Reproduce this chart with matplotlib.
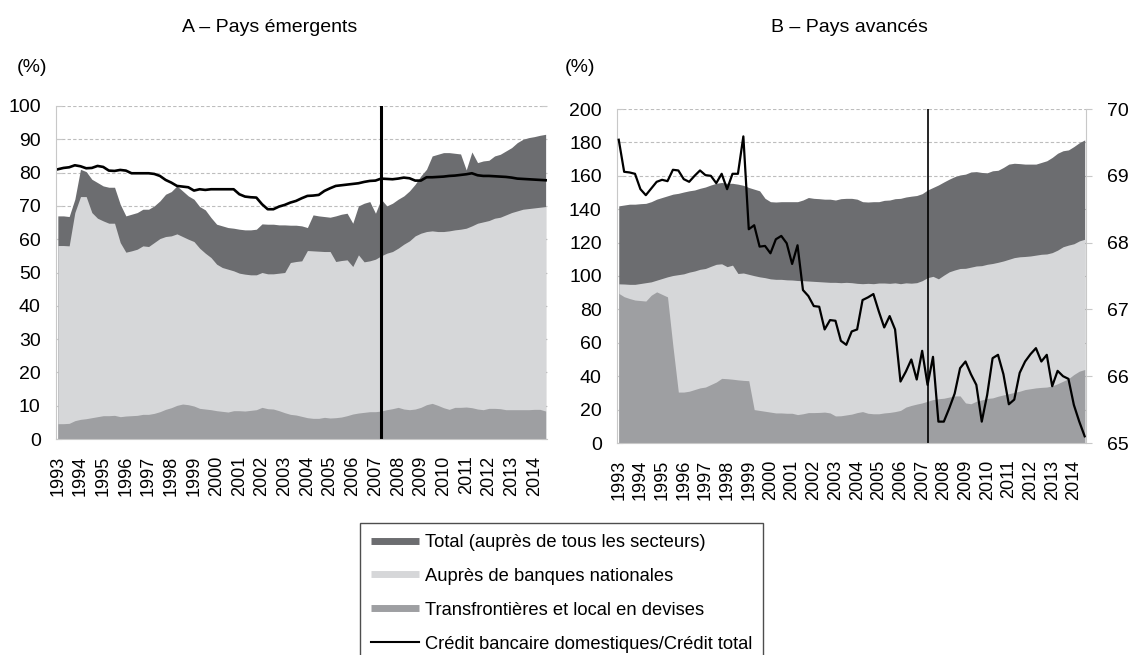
import numpy as np
import matplotlib.pyplot as plt
from matplotlib.lines import Line2D

plt.rcParams['font.family'] = ['Liberation Sans', 'DejaVu Sans']

# quarterly data, 1993Q1 .. 2014Q3
quarters = 1993 + 0.25 * np.arange(87)
years = list(range(1993, 2015))
crisis = 2007.25

# A - emerging countries (%)
a_total = [67, 67, 66.8, 72,
           81, 80.3, 78, 77,
           76, 75.6, 75.6, 70.5,
           67, 67.5, 68, 69,
           69, 70, 71.5, 73.5,
           74.3, 76, 74.5, 73,
           72, 69.8, 68.8, 66.5,
           64.5, 64, 63.5, 63.3,
           63, 62.8, 62.8, 63,
           64.6, 64.5, 64.5, 64.3,
           64.3, 64.2, 64.2, 64,
           63.5, 67.3, 67, 66.8,
           66.6, 67, 67.5, 67.8,
           64.8, 70, 70.8, 71.3,
           67.8, 72, 70, 70.8,
           72, 73, 74.5, 76.5,
           79, 81, 85, 85.5,
           86, 86, 85.8, 85.6,
           80.8, 86.2, 83, 83.5,
           83.7, 85, 85.5, 86.5,
           87.5, 89, 90, 90.5,
           90.8, 91.2, 91.5]
a_national = [58.1, 58.1, 58, 68,
              72.8, 72.8, 68, 66.3,
              65.5, 64.8, 64.8, 59,
              56.1, 56.5, 57, 58,
              57.8, 59, 60.2, 60.8,
              61, 61.6, 60.8, 60,
              59.3, 57.3, 55.8, 54.5,
              52.5, 51.5, 51, 50.5,
              49.8, 49.5, 49.3, 49.3,
              50, 49.6, 49.6, 49.8,
              50, 53, 53.3, 53.5,
              56.6, 56.5, 56.4, 56.3,
              56.3, 53.3, 53.6, 53.8,
              51.8, 55.3, 53.2, 53.5,
              54, 55, 55.8, 56.3,
              57.3, 58.5, 59.5, 61,
              61.8, 62.3, 62.5, 62.3,
              62.3, 62.5, 62.8, 63,
              63.3, 64, 64.8, 65.2,
              65.6, 66.3, 66.6, 67.3,
              68, 68.5, 69, 69.2,
              69.4, 69.6, 69.8]
a_cross = [4.6, 4.6, 4.7, 5.5,
           5.9, 6.1, 6.4, 6.7,
           7.0, 7.0, 7.1, 6.7,
           6.9, 7.0, 7.1, 7.4,
           7.4, 7.7, 8.2, 8.9,
           9.4, 10.1, 10.5, 10.3,
           9.9, 9.2, 9.0, 8.8,
           8.5, 8.3, 8.1, 8.5,
           8.5, 8.4, 8.6, 8.8,
           9.5, 9.1, 9.0, 8.5,
           7.9, 7.4, 7.2, 6.8,
           6.4, 6.2, 6.2, 6.5,
           6.3, 6.4, 6.6, 7.0,
           7.5, 7.8, 8.0, 8.2,
           8.2, 8.4, 8.8, 9.1,
           9.5, 9.0, 8.8, 9.0,
           9.5, 10.3, 10.7, 10.1,
           9.4, 8.9, 9.5, 9.5,
           9.6, 9.4, 9.0, 8.8,
           9.2, 9.2, 9.1, 8.8,
           8.8, 8.8, 8.8, 8.8,
           8.9, 8.9, 8.4]
a_ratio = [81, 81.4, 81.6, 82.2,
           81.9, 81.3, 81.4, 82,
           81.7, 80.6, 80.5, 80.8,
           80.6, 79.8, 79.8, 79.8,
           79.8, 79.6, 79, 77.8,
           77, 76, 75.8, 75.6,
           74.6, 75, 74.8, 75,
           75, 75, 75, 75,
           73.5, 72.8, 72.6, 72.5,
           70.5, 69, 69, 69.8,
           70.3, 71, 71.5, 72.3,
           73, 73.1, 73.3, 74.5,
           75.3, 76, 76.2, 76.4,
           76.6, 76.8, 77.2, 77.5,
           77.6, 78.2, 78.1, 78,
           78.2, 78.5, 78.3, 77.6,
           77.6, 78.6, 78.6, 78.7,
           78.8, 79, 79.1, 79.3,
           79.5, 79.8, 79.2, 79,
           79, 78.9, 78.8, 78.7,
           78.5, 78.2, 78.1, 78,
           77.9, 77.8, 77.7]

# B - advanced countries (%), ratio on right axis
b_total = [142, 142.5, 143, 143,
           143.3, 143.5, 144.5, 146,
           147, 148, 149, 149.5,
           150.3, 151, 151.5, 152.5,
           153.3, 154.5, 155.5, 156,
           155.5, 155.5, 155, 154.3,
           153, 152, 151, 146.5,
           144.5, 144.3, 144.5, 144.5,
           144.5, 144.5, 145.5, 147,
           146.5, 146.3, 146, 146,
           145.5, 146.3, 146.5, 146.5,
           146, 144.5, 144.3, 144.5,
           144.5, 145.3, 145.5, 146.3,
           146.5, 147.3, 147.8, 148.2,
           149.3, 151.5, 153, 154.5,
           156.3, 158, 159.5, 160.5,
           161, 162.3, 162.5, 162,
           161.8, 163, 163.3, 165,
           167, 167.5, 167.3, 167,
           167, 167, 168, 169,
           171, 173.5, 175, 175.5,
           177.5, 179.8, 181.5]
b_national = [95.3, 95.2, 95, 95,
              95.5, 96, 96.5, 97.5,
              98.5, 99.5, 100.3, 100.8,
              101.3, 102.3, 103, 104,
              104.5, 105.8, 107, 107.3,
              105.6, 106.5, 101.5, 101.8,
              101, 100.2, 99.5, 99,
              98.3, 98, 98, 97.7,
              97.6, 97.3, 97.2, 97,
              96.8, 96.6, 96.4, 96.2,
              96.2, 96, 96.2, 96,
              95.6, 95.4, 95.6, 95.4,
              95.8, 95.8, 95.6, 95.9,
              95.4, 95.9, 95.7, 96,
              97.2, 99, 99.8, 98.3,
              100.5, 102.5, 103.6, 104.5,
              104.6, 105.3, 106, 106.2,
              107, 107.5, 108.2, 109,
              110, 111, 111.5, 111.7,
              112, 112.5, 113, 113.2,
              114, 115.5, 117.5, 118.5,
              119.3, 121, 122]
b_cross = [89.6, 87.6, 86.5, 85.6,
           85.3, 85, 88.5, 90.5,
           89, 87.5, 58, 30.5,
           30.5, 31, 32, 33,
           33.5, 35, 36.5, 38.7,
           38.5, 38.2, 37.8, 37.5,
           37.3, 20, 19.5, 19,
           18.5, 18, 18, 17.8,
           17.8, 17, 17.5, 18.2,
           18.2, 18.3, 18.5, 18,
           16.2, 16.3, 16.8, 17.3,
           18.2, 18.8, 17.8, 17.5,
           17.5, 18, 18.3, 18.8,
           19.5, 21.5, 22.5, 23.3,
           24, 25, 26, 26.5,
           26.8, 27.5, 28.2, 28.2,
           24, 23.5, 25, 25.8,
           26.7, 27, 28, 28.8,
           29.5, 30.3, 31, 32,
           32.5, 33, 33.3, 33.5,
           34.2, 35.5, 37, 38.5,
           41, 43, 44]
b_ratio = [69.54, 69.06, 69.05, 69.03,
           68.8, 68.71, 68.81, 68.91,
           68.94, 68.92, 69.09, 69.08,
           68.95, 68.91, 69.0, 69.08,
           69.01, 69.0, 68.89, 69.03,
           68.8, 69.03, 69.03, 69.59,
           68.2, 68.26, 67.94, 67.95,
           67.84, 68.05, 68.1, 67.99,
           67.68, 67.96, 67.29, 67.2,
           67.05, 67.04, 66.7, 66.84,
           66.83, 66.53, 66.47, 66.67,
           66.7, 67.14, 67.18, 67.23,
           66.97, 66.73, 66.9, 66.7,
           65.92, 66.07, 66.25, 65.95,
           66.38, 65.87, 66.29, 65.32,
           65.32, 65.52, 65.74, 66.12,
           66.22, 66.03, 65.87, 65.32,
           65.72, 66.27, 66.32, 66.03,
           65.58, 65.65, 66.05, 66.22,
           66.33, 66.42, 66.22, 66.32,
           65.85, 66.08, 66.0, 65.96,
           65.57, 65.32, 65.1]

labels = ['Total (auprès de tous les secteurs)',
          'Auprès de banques nationales',
          'Transfrontières et local en devises',
          'Crédit bancaire domestiques/Crédit total']

dark = '#6c6d70'
light = '#d6d7d9'
medium = '#9e9fa2'
spine_col = '#c8c8c8'

W, H = 1132, 655
fig = plt.figure(figsize=(W / 100, H / 100), dpi=100)


def px(left, top, right, bottom):
    return [left / W, 1 - bottom / H, (right - left) / W, (bottom - top) / H]


def style(ax, top, step, right_ticks):
    ax.set_xlim(1992.92, 2014.56)
    ax.set_ylim(0, top)
    ax.set_yticks(np.arange(0, top + 1, step))
    ax.set_xticks(years)
    ax.set_xticklabels([str(y) for y in years], rotation=90, fontsize=13)
    ax.tick_params(axis='x', length=0, pad=12)
    ax.tick_params(axis='y', length=4, direction='in', color=spine_col,
                   right=right_ticks, pad=11, labelsize=14)
    ax.grid(axis='y', color='#bdbdbd', ls=(0, (3, 2)), lw=0.8)
    ax.set_axisbelow(True)
    for s in ['top', 'right']:
        ax.spines[s].set_visible(False)
    for s in ['left', 'bottom']:
        ax.spines[s].set_color(spine_col)


# panel A
axA = fig.add_axes(px(56, 106, 547, 439))
axA.fill_between(quarters, 0, a_total, color=dark, lw=0)
axA.fill_between(quarters, 0, a_national, color=light, lw=0)
axA.fill_between(quarters, 0, a_cross, color=medium, lw=0)
axA.plot(quarters, a_ratio, color='black', lw=1.9)
axA.axvline(crisis, color='black', lw=2.2)
style(axA, 100, 10, True)

# panel B
axB = fig.add_axes(px(617, 109, 1086, 443))
axB.fill_between(quarters, 0, b_total, color=dark, lw=0)
axB.fill_between(quarters, 0, b_national, color=light, lw=0)
axB.fill_between(quarters, 0, b_cross, color=medium, lw=0)
axB.axvline(crisis, color='black', lw=1.2)
style(axB, 200, 20, False)

axR = axB.twinx()
axR.plot(quarters, b_ratio, color='black', lw=1.6)
axR.set_ylim(65, 70)
axR.set_yticks(range(65, 71))
axR.tick_params(axis='y', length=4, color=spine_col, pad=11, labelsize=14)
for s in ['top', 'left', 'bottom']:
    axR.spines[s].set_visible(False)
axR.spines['right'].set_color(spine_col)

# titles and units
fig.text(270 / W, 1 - 27 / H, 'A – Pays émergents', ha='center', va='center', fontsize=14)
fig.text(849 / W, 1 - 27 / H, 'B – Pays avancés', ha='center', va='center', fontsize=14)
fig.text(32 / W, 1 - 67 / H, '(%)', ha='center', va='center', fontsize=14)
fig.text(580 / W, 1 - 67 / H, '(%)', ha='center', va='center', fontsize=14)

handles = [Line2D([0], [0], color=dark, lw=5, solid_capstyle='butt'),
           Line2D([0], [0], color=light, lw=5, solid_capstyle='butt'),
           Line2D([0], [0], color=medium, lw=5, solid_capstyle='butt'),
           Line2D([0], [0], color='black', lw=1.5)]
leg = fig.legend(handles, labels, loc='upper left', bbox_to_anchor=(360 / W, 1 - 523 / H),
                 fontsize=13.2, handlelength=2.6, handletextpad=0.35, borderpad=0.6,
                 labelspacing=0.92, borderaxespad=0, fancybox=False, edgecolor='#222222')
leg.get_frame().set_linewidth(1.0)

fig.savefig('out.png', dpi=100)
